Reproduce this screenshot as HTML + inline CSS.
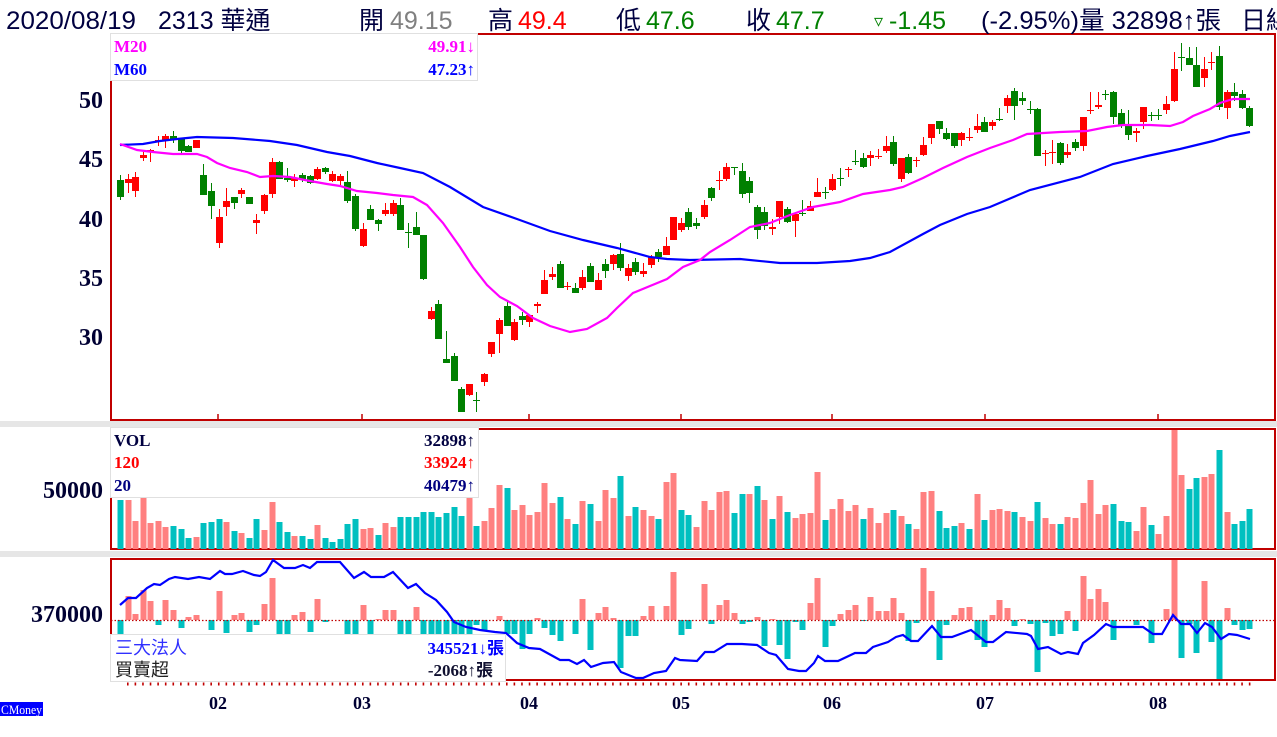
<!DOCTYPE html>
<html><head><meta charset="utf-8"><style>
html,body{margin:0;padding:0;background:#fff;}
body{width:1277px;height:737px;overflow:hidden;}
svg{display:block;}
.ax{font-family:"Liberation Serif",serif;font-weight:bold;fill:#000033;}
.hd{font-family:"Liberation Sans","Noto Sans CJK TC",sans-serif;font-size:25px;}
.lg{font-family:"Liberation Serif",serif;font-weight:bold;font-size:17px;}
.cj{font-family:"Liberation Serif","Noto Sans CJK TC",serif;}
</style></head><body>
<svg width="1277" height="737" viewBox="0 0 1277 737" xmlns="http://www.w3.org/2000/svg">
<rect x="0" y="0" width="1277" height="737" fill="#fff"/>
<rect x="0" y="421" width="1277" height="6" fill="#e6e6e6"/>
<rect x="0" y="551" width="1277" height="6" fill="#e6e6e6"/>
<g fill="none" stroke="#c00000" stroke-width="2">
<rect x="111" y="34" width="1164" height="386"/>
<rect x="111" y="429" width="1164" height="120"/>
<rect x="111" y="559" width="1164" height="121"/>
</g>
<path stroke="#c00000" stroke-width="1.5" d="M218 414V420M362 414V420M529 414V420M681 414V420M832 414V420M985 414V420M1158 414V420"/>
<!-- candles red -->
<path stroke="#ff0000" stroke-width="1" fill="none" d="M128.5 174V193M135.5 172V197M143.5 152V161M150.5 149V162M158.5 136V146M165.5 134V148M196.5 140V148M219.5 209V248M226.5 188V216M241.5 188V198M256.5 214V234M264.5 194V214M272.5 158V198M294.5 174V187M317.5 167V180M332.5 171V182M340.5 174V185M363.5 223V247M385.5 203V216M393.5 200V216M431.5 307V320M469.5 384V396M484.5 373V386M491.5 342V357M499.5 318V353M514.5 319V341M529.5 315V327M537.5 302V313M544.5 270V294M552.5 267V280M567.5 282V290M582.5 270V290M598.5 273V290M613.5 254V270M628.5 264V281M643.5 263V277M651.5 255V268M666.5 237V255M673.5 217V240M681.5 218V232M704.5 200V219M719.5 171V190M726.5 163V181M772.5 219V235M779.5 201V224M795.5 213V237M810.5 201V211M817.5 178V197M832.5 174V191M848.5 167V177M870.5 151V166M878.5 149V159M886.5 136V153M901.5 158V182M916.5 157V167M923.5 137V156M931.5 124V144M961.5 132V146M969.5 128V141M977.5 114V133M992.5 120V130M1007.5 95V113M1045.5 150V166M1052.5 140V164M1067.5 144V158M1083.5 117V151M1090.5 92V114M1098.5 92V109M1136.5 128V142M1143.5 107V129M1166.5 96V114M1174.5 52V102M1204.5 57V87M1211.5 52V70M1227.5 90V119"/>
<path fill="#ff0000" d="M125 179h7v4h-7zM132 177h7v14h-7zM140 155h7v3h-7zM147 150h7v2h-7zM155 140h7v1h-7zM162 136h7v5h-7zM193 140h7v8h-7zM216 217h7v26h-7zM223 201h7v6h-7zM238 190h7v4h-7zM253 220h7v3h-7zM261 195h7v16h-7zM269 162h7v32h-7zM291 178h7v3h-7zM314 169h7v10h-7zM329 174h7v7h-7zM337 176h7v5h-7zM360 229h7v17h-7zM382 210h7v4h-7zM390 203h7v11h-7zM428 311h7v8h-7zM466 384h7v11h-7zM481 374h7v8h-7zM488 342h7v12h-7zM496 320h7v14h-7zM511 322h7v18h-7zM526 315h7v7h-7zM534 304h7v2h-7zM541 280h7v14h-7zM549 274h7v3h-7zM564 286h7v1h-7zM579 277h7v11h-7zM595 280h7v10h-7zM610 255h7v9h-7zM625 268h7v8h-7zM640 271h7v3h-7zM648 257h7v8h-7zM663 246h7v9h-7zM670 217h7v23h-7zM678 223h7v7h-7zM701 205h7v12h-7zM716 180h7v1h-7zM723 167h7v12h-7zM769 227h7v2h-7zM776 201h7v16h-7zM792 214h7v7h-7zM807 206h7v5h-7zM814 192h7v5h-7zM829 179h7v11h-7zM845 169h7v1h-7zM867 155h7v3h-7zM875 156h7v1h-7zM883 146h7v5h-7zM898 158h7v21h-7zM913 160h7v1h-7zM920 145h7v10h-7zM928 124h7v14h-7zM958 133h7v7h-7zM966 137h7v1h-7zM974 126h7v4h-7zM989 122h7v4h-7zM1004 98h7v8h-7zM1042 153h7v1h-7zM1049 152h7v1h-7zM1064 152h7v3h-7zM1080 117h7v29h-7zM1087 110h7v1h-7zM1095 105h7v2h-7zM1133 131h7v2h-7zM1140 107h7v15h-7zM1163 104h7v6h-7zM1171 69h7v32h-7zM1201 69h7v9h-7zM1208 62h7v1h-7zM1224 92h7v16h-7z"/>
<!-- candles green -->
<path stroke="#008000" stroke-width="1" fill="none" d="M120.5 175V200M173.5 131V143M181.5 138V153M188.5 145V152M203.5 164V195M211.5 183V219M234.5 197V209M249.5 197V204M279.5 161V179M287.5 168V182M302.5 173V182M310.5 175V184M325.5 167V174M347.5 171V203M355.5 194V231M370.5 205V220M378.5 219V231M400.5 198V230M408.5 223V248M416.5 212V235M423.5 235V280M438.5 300V339M446.5 331V363M454.5 353V381M461.5 387V412M476.5 392V412M507.5 302V326M522.5 312V325M560.5 261V288M575.5 283V293M590.5 263V282M605.5 259V278M620.5 243V271M635.5 258V275M658.5 249V262M688.5 208V230M696.5 218V229M711.5 187V201M734.5 167V175M742.5 163V198M749.5 177V203M757.5 205V239M764.5 207V230M787.5 207V223M802.5 200V216M825.5 187V199M840.5 168V186M855.5 150V165M863.5 153V168M893.5 136V166M908.5 154V174M939.5 121V134M946.5 128V140M954.5 133V148M984.5 117V132M999.5 108V121M1014.5 88V120M1022.5 92V105M1030.5 101V114M1037.5 108V156M1060.5 142V165M1075.5 139V151M1105.5 90V100M1113.5 91V124M1121.5 109V128M1128.5 110V140M1151.5 112V121M1158.5 109V120M1181.5 43V71M1189.5 47V65M1196.5 47V87M1219.5 46V110M1234.5 83V101M1242.5 90V109M1249.5 106V127"/>
<path fill="#008000" d="M117 180h7v17h-7zM170 136h7v3h-7zM178 138h7v13h-7zM185 146h7v6h-7zM200 175h7v20h-7zM208 191h7v15h-7zM231 197h7v6h-7zM246 197h7v7h-7zM276 162h7v17h-7zM284 178h7v2h-7zM299 175h7v4h-7zM307 176h7v7h-7zM322 168h7v4h-7zM344 182h7v19h-7zM352 196h7v33h-7zM367 209h7v11h-7zM375 220h7v4h-7zM397 205h7v25h-7zM405 232h7v1h-7zM413 227h7v8h-7zM420 235h7v44h-7zM435 304h7v35h-7zM443 359h7v4h-7zM451 356h7v25h-7zM458 389h7v23h-7zM473 400h7v1h-7zM504 306h7v20h-7zM519 316h7v4h-7zM557 264h7v24h-7zM572 288h7v5h-7zM587 266h7v16h-7zM602 264h7v7h-7zM617 254h7v14h-7zM632 262h7v10h-7zM655 252h7v5h-7zM685 212h7v15h-7zM693 223h7v3h-7zM708 188h7v10h-7zM731 167h7v1h-7zM739 171h7v23h-7zM746 181h7v12h-7zM754 207h7v23h-7zM761 212h7v14h-7zM784 209h7v13h-7zM799 213h7v1h-7zM822 192h7v1h-7zM837 178h7v1h-7zM852 161h7v1h-7zM860 158h7v9h-7zM890 142h7v22h-7zM905 157h7v16h-7zM936 121h7v8h-7zM943 133h7v6h-7zM951 133h7v13h-7zM981 122h7v10h-7zM996 119h7v1h-7zM1011 91h7v15h-7zM1019 98h7v3h-7zM1027 109h7v1h-7zM1034 109h7v47h-7zM1057 143h7v20h-7zM1072 142h7v6h-7zM1102 94h7v1h-7zM1110 92h7v25h-7zM1118 113h7v12h-7zM1125 124h7v11h-7zM1148 115h7v1h-7zM1155 115h7v1h-7zM1178 57h7v1h-7zM1186 58h7v7h-7zM1193 65h7v22h-7zM1216 56h7v51h-7zM1231 92h7v4h-7zM1239 94h7v14h-7zM1246 108h7v18h-7z"/>
<!-- MAs -->
<polyline fill="none" stroke="#0000ff" stroke-width="2.2" points="120,145 143,144 160,141 177,139 197,137 233,138 270,141 297,145 327,152 350,156 377,163 400,168 423,173 450,187 483,207 517,219 550,231 583,240 617,248 650,257 667,259 690,260 740,259 780,263 817,263 850,261 870,258 890,252 923,234 940,225 967,214 990,207 1030,190 1080,177 1113,164 1147,156 1180,149 1213,141 1230,136 1250,132"/>
<polyline fill="none" stroke="#ff00ff" stroke-width="2.2" points="120,144 137,150 153,152 173,154 197,154 207,157 217,163 230,168 247,172 260,177 273,176 290,177 310,181 327,184 340,186 357,191 377,193 393,195 413,197 427,205 443,223 460,247 473,267 487,285 500,297 517,306 533,318 550,326 570,332 587,329 607,318 617,308 633,293 650,286 667,279 683,267 700,260 710,252 730,240 750,227 770,223 790,215 813,207 840,202 863,194 890,190 903,187 923,178 943,168 967,157 990,148 1013,140 1027,134 1060,132 1087,131 1107,127 1123,125 1150,125 1170,126 1183,122 1193,116 1210,109 1220,103 1233,99 1250,99"/>
<!-- volume -->
<path fill="#ff8080" d="M125.5 500h6V549h-6zM132.5 521h6V549h-6zM140.5 498h6V549h-6zM147.5 523h6V549h-6zM155.5 521h6V549h-6zM162.5 527h6V549h-6zM193.5 537h6V549h-6zM223.5 522h6V549h-6zM238.5 533h6V549h-6zM261.5 530h6V549h-6zM269.5 502h6V549h-6zM291.5 536h6V549h-6zM314.5 525h6V549h-6zM360.5 529h6V549h-6zM367.5 528h6V549h-6zM382.5 523h6V549h-6zM390.5 527h6V549h-6zM466.5 498h6V549h-6zM481.5 521h6V549h-6zM488.5 508h6V549h-6zM496.5 485h6V549h-6zM511.5 510h6V549h-6zM519.5 505h6V549h-6zM526.5 515h6V549h-6zM534.5 512h6V549h-6zM541.5 483h6V549h-6zM549.5 503h6V549h-6zM564.5 519h6V549h-6zM579.5 501h6V549h-6zM595.5 521h6V549h-6zM602.5 490h6V549h-6zM610.5 498h6V549h-6zM625.5 516h6V549h-6zM640.5 510h6V549h-6zM648.5 516h6V549h-6zM663.5 482h6V549h-6zM670.5 473h6V549h-6zM693.5 527h6V549h-6zM701.5 501h6V549h-6zM708.5 510h6V549h-6zM716.5 492h6V549h-6zM723.5 491h6V549h-6zM746.5 494h6V549h-6zM761.5 500h6V549h-6zM776.5 496h6V549h-6zM792.5 518h6V549h-6zM799.5 514h6V549h-6zM807.5 513h6V549h-6zM814.5 472h6V549h-6zM829.5 509h6V549h-6zM837.5 499h6V549h-6zM845.5 511h6V549h-6zM852.5 505h6V549h-6zM867.5 508h6V549h-6zM875.5 523h6V549h-6zM883.5 513h6V549h-6zM898.5 516h6V549h-6zM913.5 529h6V549h-6zM920.5 492h6V549h-6zM928.5 491h6V549h-6zM958.5 523h6V549h-6zM974.5 494h6V549h-6zM989.5 510h6V549h-6zM996.5 509h6V549h-6zM1004.5 511h6V549h-6zM1019.5 517h6V549h-6zM1027.5 521h6V549h-6zM1042.5 518h6V549h-6zM1049.5 524h6V549h-6zM1064.5 517h6V549h-6zM1072.5 518h6V549h-6zM1080.5 503h6V549h-6zM1087.5 480h6V549h-6zM1095.5 514h6V549h-6zM1102.5 505h6V549h-6zM1133.5 531h6V549h-6zM1140.5 507h6V549h-6zM1155.5 534h6V549h-6zM1163.5 516h6V549h-6zM1171.5 430h6V549h-6zM1178.5 475h6V549h-6zM1201.5 477h6V549h-6zM1208.5 474h6V549h-6zM1224.5 512h6V549h-6z"/>
<path fill="#00c0c0" d="M117.5 500h6V549h-6zM170.5 526h6V549h-6zM178.5 529h6V549h-6zM185.5 538h6V549h-6zM200.5 523h6V549h-6zM208.5 522h6V549h-6zM216.5 519h6V549h-6zM231.5 531h6V549h-6zM246.5 538h6V549h-6zM253.5 519h6V549h-6zM276.5 522h6V549h-6zM284.5 532h6V549h-6zM299.5 536h6V549h-6zM307.5 539h6V549h-6zM322.5 538h6V549h-6zM329.5 542h6V549h-6zM337.5 539h6V549h-6zM344.5 524h6V549h-6zM352.5 519h6V549h-6zM375.5 535h6V549h-6zM397.5 517h6V549h-6zM405.5 517h6V549h-6zM413.5 517h6V549h-6zM420.5 512h6V549h-6zM428.5 512h6V549h-6zM435.5 517h6V549h-6zM443.5 513h6V549h-6zM451.5 507h6V549h-6zM458.5 516h6V549h-6zM473.5 526h6V549h-6zM504.5 488h6V549h-6zM557.5 497h6V549h-6zM572.5 524h6V549h-6zM587.5 504h6V549h-6zM617.5 476h6V549h-6zM632.5 507h6V549h-6zM655.5 519h6V549h-6zM678.5 510h6V549h-6zM685.5 515h6V549h-6zM731.5 513h6V549h-6zM739.5 494h6V549h-6zM754.5 486h6V549h-6zM769.5 519h6V549h-6zM784.5 512h6V549h-6zM822.5 520h6V549h-6zM860.5 519h6V549h-6zM890.5 510h6V549h-6zM905.5 524h6V549h-6zM936.5 511h6V549h-6zM943.5 528h6V549h-6zM951.5 526h6V549h-6zM966.5 529h6V549h-6zM981.5 520h6V549h-6zM1011.5 512h6V549h-6zM1034.5 502h6V549h-6zM1057.5 524h6V549h-6zM1110.5 504h6V549h-6zM1118.5 521h6V549h-6zM1125.5 522h6V549h-6zM1148.5 525h6V549h-6zM1186.5 489h6V549h-6zM1193.5 478h6V549h-6zM1216.5 450h6V549h-6zM1231.5 524h6V549h-6zM1239.5 521h6V549h-6zM1246.5 509h6V549h-6z"/>
<!-- institutional bars -->
<path fill="#ff8080" d="M125.5 596h6V620h-6zM132.5 614h6V620h-6zM140.5 590h6V620h-6zM147.5 601h6V620h-6zM162.5 600h6V620h-6zM170.5 610h6V620h-6zM185.5 617h6V620h-6zM193.5 615h6V620h-6zM216.5 591h6V620h-6zM231.5 615h6V620h-6zM238.5 613h6V620h-6zM261.5 604h6V620h-6zM269.5 578h6V620h-6zM291.5 615h6V620h-6zM299.5 612h6V620h-6zM314.5 599h6V620h-6zM360.5 605h6V620h-6zM375.5 619h6V620h-6zM382.5 610h6V620h-6zM390.5 610h6V620h-6zM413.5 607h6V620h-6zM496.5 616h6V620h-6zM534.5 618h6V620h-6zM579.5 599h6V620h-6zM595.5 613h6V620h-6zM602.5 607h6V620h-6zM610.5 618h6V620h-6zM640.5 616h6V620h-6zM648.5 606h6V620h-6zM663.5 606h6V620h-6zM670.5 572h6V620h-6zM701.5 584h6V620h-6zM716.5 605h6V620h-6zM723.5 600h6V620h-6zM731.5 613h6V620h-6zM754.5 617h6V620h-6zM769.5 619h6V620h-6zM807.5 603h6V620h-6zM814.5 578h6V620h-6zM837.5 614h6V620h-6zM845.5 610h6V620h-6zM852.5 605h6V620h-6zM867.5 597h6V620h-6zM875.5 611h6V620h-6zM883.5 611h6V620h-6zM890.5 598h6V620h-6zM898.5 613h6V620h-6zM920.5 568h6V620h-6zM928.5 591h6V620h-6zM951.5 615h6V620h-6zM958.5 608h6V620h-6zM966.5 607h6V620h-6zM989.5 615h6V620h-6zM996.5 600h6V620h-6zM1004.5 608h6V620h-6zM1019.5 619h6V620h-6zM1064.5 611h6V620h-6zM1080.5 576h6V620h-6zM1087.5 599h6V620h-6zM1095.5 589h6V620h-6zM1102.5 602h6V620h-6zM1163.5 609h6V620h-6zM1171.5 560h6V620h-6zM1201.5 581h6V620h-6zM1224.5 608h6V620h-6z"/>
<path fill="#00c0c0" d="M117.5 620h6V634h-6zM155.5 620h6V625h-6zM178.5 620h6V628h-6zM208.5 620h6V630h-6zM223.5 620h6V633h-6zM246.5 620h6V632h-6zM253.5 620h6V625h-6zM276.5 620h6V634h-6zM284.5 620h6V634h-6zM307.5 620h6V632h-6zM322.5 620h6V622h-6zM344.5 620h6V634h-6zM352.5 620h6V634h-6zM367.5 620h6V634h-6zM397.5 620h6V634h-6zM405.5 620h6V634h-6zM420.5 620h6V634h-6zM428.5 620h6V634h-6zM435.5 620h6V634h-6zM443.5 620h6V634h-6zM451.5 620h6V634h-6zM458.5 620h6V634h-6zM466.5 620h6V634h-6zM473.5 620h6V625h-6zM481.5 620h6V631h-6zM504.5 620h6V634h-6zM511.5 620h6V634h-6zM519.5 620h6V649h-6zM526.5 620h6V634h-6zM541.5 620h6V628h-6zM549.5 620h6V635h-6zM557.5 620h6V641h-6zM572.5 620h6V634h-6zM587.5 620h6V650h-6zM617.5 620h6V668h-6zM625.5 620h6V636h-6zM632.5 620h6V636h-6zM678.5 620h6V635h-6zM685.5 620h6V629h-6zM708.5 620h6V624h-6zM739.5 620h6V624h-6zM746.5 620h6V622h-6zM761.5 620h6V646h-6zM776.5 620h6V645h-6zM784.5 620h6V659h-6zM792.5 620h6V622h-6zM799.5 620h6V630h-6zM822.5 620h6V647h-6zM829.5 620h6V626h-6zM860.5 620h6V621h-6zM905.5 620h6V641h-6zM913.5 620h6V623h-6zM936.5 620h6V660h-6zM943.5 620h6V625h-6zM974.5 620h6V640h-6zM981.5 620h6V647h-6zM1011.5 620h6V626h-6zM1027.5 620h6V624h-6zM1034.5 620h6V672h-6zM1042.5 620h6V623h-6zM1049.5 620h6V636h-6zM1057.5 620h6V634h-6zM1072.5 620h6V631h-6zM1110.5 620h6V640h-6zM1133.5 620h6V625h-6zM1148.5 620h6V643h-6zM1178.5 620h6V658h-6zM1186.5 620h6V624h-6zM1193.5 620h6V653h-6zM1208.5 620h6V642h-6zM1216.5 620h6V679h-6zM1231.5 620h6V625h-6zM1239.5 620h6V630h-6zM1246.5 620h6V629h-6z"/>
<line x1="111" y1="620.5" x2="1274" y2="620.5" stroke="#c00000" stroke-width="1.3" stroke-dasharray="1.5 2"/>
<polyline fill="none" stroke="#0000ff" stroke-width="2.2" points="120,605 128,598 136,598 147,588 154,584 160,585 169,579 175,577 188,579 199,577 210,579 220,571 225,574 232,574 243,571 254,575 260,576 266,572 273,560 284,568 295,568 303,565 310,568 317,562 340,562 354,578 364,572 371,577 384,577 393,572 408,588 416,584 425,593 436,600 447,612 454,622 466,627 480,630 495,632 506,633 517,643 529,648 540,649 560,660 569,660 577,664 584,660 591,667 603,663 614,662 621,672 636,678 643,678 654,673 666,671 675,658 680,660 697,661 705,652 714,652 727,644 742,644 757,645 769,653 776,655 788,669 799,671 806,671 814,663 818,656 825,661 838,661 855,653 866,653 873,647 888,642 896,637 903,635 911,641 918,641 932,626 941,637 952,637 971,630 986,642 993,642 1006,632 1027,634 1031,636 1038,649 1048,647 1061,654 1068,652 1078,654 1083,643 1094,635 1106,624 1113,627 1143,627 1153,634 1162,634 1173,615 1181,624 1190,624 1197,633 1205,623 1212,627 1221,639 1229,634 1237,635 1250,639"/>
<line x1="127" y1="684" x2="1252" y2="684" stroke="#c00000" stroke-width="3" stroke-dasharray="1.6 5.98"/>
<!-- legends -->
<rect x="110.5" y="33.5" width="367" height="47" fill="#fff" stroke="#e0e0e0"/>
<text class="lg" x="114" y="52" fill="#ff00ff">M20</text>
<text class="lg" x="475" y="52" fill="#ff00ff" text-anchor="end">49.91↓</text>
<text class="lg" x="114" y="75" fill="#0000ff">M60</text>
<text class="lg" x="475" y="75" fill="#0000ff" text-anchor="end">47.23↑</text>
<rect x="110.5" y="427.5" width="368" height="70" fill="#fff" stroke="#e0e0e0"/>
<text class="lg" x="114" y="446" fill="#000040" font-size="18">VOL</text>
<text class="lg" x="475" y="446" fill="#000040" text-anchor="end">32898↑</text>
<text class="lg" x="114" y="468" fill="#ff0000">120</text>
<text class="lg" x="475" y="468" fill="#ff0000" text-anchor="end">33924↑</text>
<text class="lg" x="114" y="491" fill="#000080">20</text>
<text class="lg" x="475" y="491" fill="#000080" text-anchor="end">40479↑</text>
<rect x="110.5" y="634.5" width="395" height="47" fill="#fff" stroke="#e0e0e0"/>
<text class="cj" x="115" y="654" fill="#3030ff" font-size="18">三大法人</text>
<text class="cj" x="504" y="654" fill="#0000ff" font-size="17" font-weight="bold" text-anchor="end">345521↓張</text>
<text class="cj" x="115" y="676" fill="#202020" font-size="18">買賣超</text>
<text class="cj" x="493" y="676" fill="#101030" font-size="17" font-weight="bold" text-anchor="end">-2068↑張</text>
<!-- axis labels -->
<g class="ax" font-size="24" text-anchor="end">
<text x="103" y="108">50</text>
<text x="103" y="167">45</text>
<text x="103" y="227">40</text>
<text x="103" y="286">35</text>
<text x="103" y="345">30</text>
<text x="103" y="498">50000</text>
<text x="103" y="622">370000</text>
</g>
<g class="ax" font-size="18" text-anchor="middle">
<text x="218" y="709">02</text>
<text x="362" y="709">03</text>
<text x="529" y="709">04</text>
<text x="681" y="709">05</text>
<text x="832" y="709">06</text>
<text x="985" y="709">07</text>
<text x="1158" y="709">08</text>
</g>
<rect x="0" y="702" width="43" height="14" fill="#0000ff"/>
<text x="1" y="714" fill="#fff" font-family="Liberation Serif,serif" font-size="13" textLength="41" lengthAdjust="spacingAndGlyphs">CMoney</text>
<!-- header -->
<g class="hd" fill="#000040">
<text x="6" y="29" textLength="130" lengthAdjust="spacingAndGlyphs">2020/08/19</text>
<text x="158" y="29">2313 華通</text>
<text x="359" y="29">開</text>
<text x="390" y="29" fill="#808080">49.15</text>
<text x="488" y="29">高</text>
<text x="518" y="29" fill="#ff0000">49.4</text>
<text x="616" y="29">低</text>
<text x="646" y="29" fill="#008000">47.6</text>
<text x="746" y="29">收</text>
<text x="776" y="29" fill="#008000">47.7</text>
<text x="874" y="27" fill="#008000" font-size="18">▿</text>
<text x="889" y="29" fill="#008000">-1.45</text>
<text x="981" y="29" textLength="240" lengthAdjust="spacingAndGlyphs">(-2.95%)量 32898↑張</text>
<text x="1241" y="29">日線</text>
</g>
</svg>
</body></html>
